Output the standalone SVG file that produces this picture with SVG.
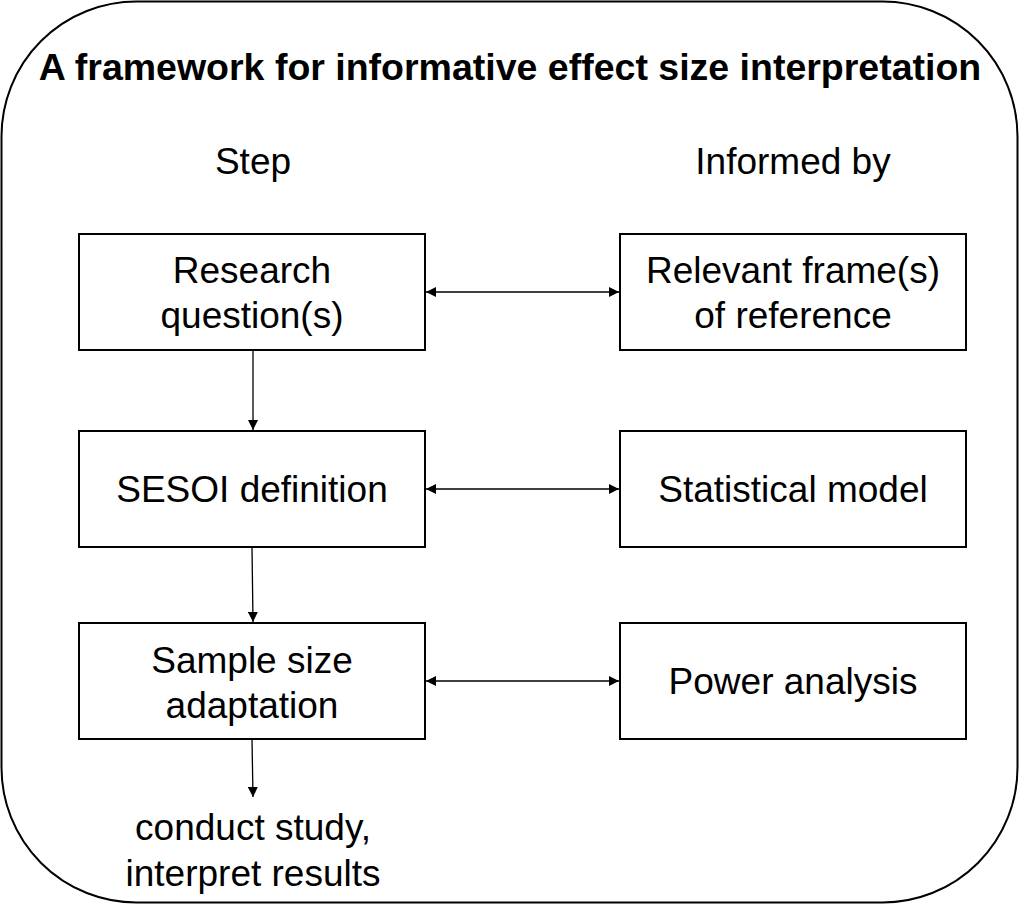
<svg xmlns="http://www.w3.org/2000/svg" width="1020" height="919" viewBox="0 0 1020 919">
<style>
.t{font-family:"Liberation Sans",Arial,sans-serif;font-size:37px;fill:#000;text-anchor:middle}
.b{fill:#fff;stroke:#000;stroke-width:2}
.c{stroke:#000;stroke-width:1.3;fill:none}
</style>
<defs>
<marker id="ah" viewBox="0 0 10 10" refX="10" refY="5" markerWidth="10" markerHeight="10" markerUnits="userSpaceOnUse" orient="auto-start-reverse"><path d="M0,0 L10,5 L0,10 z" fill="#000"/></marker>
</defs>
<rect x="1.5" y="1.5" width="1016" height="901" rx="135" ry="135" fill="#fff" stroke="#000" stroke-width="2"/>
<text class="t" x="510" y="80" style="font-weight:bold;font-size:37.5px">A framework for informative effect size interpretation</text>
<text class="t" x="253" y="174">Step</text>
<text class="t" x="793" y="174">Informed by</text>
<g id="n1"><rect class="b" x="79" y="234" width="346" height="116"/><text class="t" x="252" y="283">Research</text><text class="t" x="252" y="328">question(s)</text></g>
<g id="n2"><rect class="b" x="79" y="431" width="346" height="116"/><text class="t" x="252" y="502">SESOI definition</text></g>
<g id="n3"><rect class="b" x="79" y="623" width="346" height="116"/><text class="t" x="252" y="673">Sample size</text><text class="t" x="252" y="718">adaptation</text></g>
<g id="n4"><rect class="b" x="620" y="234" width="346" height="116"/><text class="t" x="793" y="283">Relevant frame(s)</text><text class="t" x="793" y="328">of reference</text></g>
<g id="n5"><rect class="b" x="620" y="431" width="346" height="116"/><text class="t" x="793" y="502">Statistical model</text></g>
<g id="n6"><rect class="b" x="620" y="623" width="346" height="116"/><text class="t" x="793" y="694">Power analysis</text></g>
<g id="n7"><text class="t" x="253" y="840">conduct study,</text><text class="t" x="253" y="886">interpret results</text></g>
<g id="connectors">
<line class="c" x1="426" y1="292" x2="619" y2="292" marker-start="url(#ah)" marker-end="url(#ah)"/>
<line class="c" x1="426" y1="489" x2="619" y2="489" marker-start="url(#ah)" marker-end="url(#ah)"/>
<line class="c" x1="426" y1="681" x2="619" y2="681" marker-start="url(#ah)" marker-end="url(#ah)"/>
<line class="c" x1="253" y1="350" x2="253" y2="430" marker-end="url(#ah)"/>
<line class="c" x1="252" y1="547" x2="253" y2="622" marker-end="url(#ah)"/>
<line class="c" x1="252" y1="739" x2="253" y2="797" marker-end="url(#ah)"/>
</g>
</svg>
